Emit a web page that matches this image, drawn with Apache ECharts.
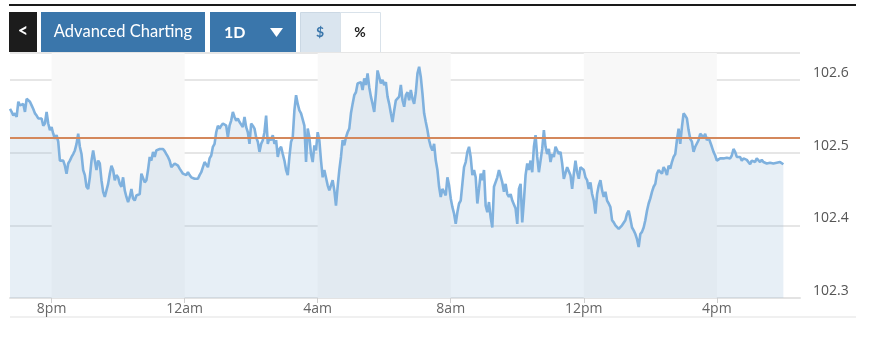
<!DOCTYPE html>
<html><head><meta charset="utf-8">
<script src="https://cdn.jsdelivr.net/npm/echarts@6/dist/echarts.min.js"></script>
<style>html,body{margin:0;padding:0;background:#fff}#c{width:870px;height:341px}</style>
</head><body><div id="c"></div>
<script>
// x categories: 3-minute steps from 18:45 to 18:30 next day
const startMinutes = 18 * 60 + 45;
const stepMinutes = 3;
const categoryCount = 476;
const tickLabels = {'20:00':'8pm','00:00':'12am','04:00':'4am','08:00':'8am','12:00':'12pm','16:00':'4pm'};
const shadedBands = [['20:00','00:00'],['04:00','08:00'],['12:00','16:00']];
const referenceLevel = 102.519;
const yLabels = ['102.3','102.4','102.5','102.6'];

const pricesEvening = [102.560,102.556,102.551,102.554,102.549,102.570,102.565,102.563,102.567,102.556,102.574,102.572,102.570,102.565,102.560,102.554,102.551,102.547,102.549,102.547,102.537,102.540,102.556,102.540,102.531,102.535,102.526,102.519,102.524,102.515,102.489,102.487,102.489,102.482,102.471,102.485,102.489,102.494,102.498,102.503,102.512,102.526,102.508,102.498,102.476,102.469,102.453,102.450,102.466,102.489,102.503,102.489,102.476,102.489,102.485,102.462,102.446,102.439,102.448,102.457,102.471,102.482,102.476,102.462,102.469,102.466,102.457,102.453,102.466,102.448,102.439,102.432,102.439,102.450,102.437,102.434,102.441,102.439,102.443,102.471,102.469,102.459,102.462,102.476,102.494,102.489,102.501,102.494,102.503,102.501];
const pricesNight = [102.505,102.505,102.505,102.502,102.498,102.494,102.489,102.480,102.482,102.485,102.487,102.482,102.478,102.476,102.471,102.473,102.469,102.473,102.469,102.466,102.466,102.464,102.462,102.464,102.469,102.473,102.480,102.487,102.489,102.480,102.492,102.496,102.508,102.512,102.528,102.537,102.533,102.537,102.540,102.542,102.537,102.521,102.537,102.544,102.556,102.549,102.544,102.547,102.542,102.542,102.535,102.549,102.535,102.528,102.512,102.540,102.537,102.533,102.521,102.515,102.501,102.512,102.517,102.528,102.551,102.512,102.521,102.517,102.524,102.512,102.517,102.494,102.505,102.508,102.498,102.489,102.476,102.469,102.494,102.515,102.521,102.558,102.579,102.567,102.558,102.554,102.556,102.537,102.487,102.533,102.521,102.498,102.487];
const pricesEarly = [102.510,102.503,102.528,102.517,102.489,102.466,102.476,102.478,102.455,102.448,102.446,102.462,102.448,102.427,102.453,102.476,102.494,102.517,102.510,102.521,102.528,102.533,102.554,102.567,102.579,102.583,102.595,102.593,102.597,102.586,102.602,102.593,102.609,102.590,102.577,102.567,102.556,102.581,102.613,102.604,102.595,102.600,102.593,102.597,102.577,102.567,102.554,102.542,102.558,102.572,102.570,102.577,102.593,102.572,102.563,102.579,102.583,102.572,102.586,102.574,102.567,102.583,102.609,102.618,102.604,102.581,102.554,102.542,102.531,102.517,102.508,102.503,102.512,102.489,102.476,102.453,102.439,102.450,102.446,102.441,102.466,102.455,102.437,102.425,102.416,102.402,102.418,102.430,102.434,102.457,102.480,102.487,102.501];
const pricesMorning = [102.508,102.494,102.469,102.476,102.466,102.430,102.450,102.471,102.462,102.476,102.427,102.418,102.432,102.411,102.397,102.453,102.455,102.466,102.476,102.478,102.459,102.446,102.457,102.443,102.439,102.443,102.434,102.432,102.423,102.402,102.450,102.457,102.404,102.434,102.469,102.485,102.476,102.489,102.473,102.508,102.524,102.494,102.473,102.489,102.505,102.531,102.508,102.498,102.505,102.487,102.498,102.494,102.508,102.510,102.498,102.501,102.485,102.464,102.462,102.480,102.482,102.469,102.450,102.471,102.489,102.473,102.464,102.480,102.482,102.476,102.466,102.462,102.450,102.459,102.443,102.434,102.416,102.443,102.455,102.462,102.448,102.439,102.446,102.434,102.430,102.425,102.407,102.404,102.400,102.402,102.395,102.397,102.400];
const pricesAfternoon = [102.402,102.407,102.416,102.420,102.409,102.397,102.393,102.388,102.381,102.370,102.388,102.391,102.397,102.407,102.420,102.430,102.437,102.446,102.453,102.457,102.471,102.476,102.478,102.471,102.480,102.476,102.469,102.482,102.478,102.487,102.494,102.498,102.517,102.533,102.512,102.535,102.554,102.551,102.547,102.531,102.519,102.515,102.501,102.508,102.510,102.517,102.526,102.524,102.521,102.526,102.517,102.521,102.519,102.508,102.501,102.496,102.489,102.489,102.492,102.490,102.492,102.490,102.493,102.494,102.492,102.496,102.505,102.501,102.494,102.492,102.494,102.489,102.492,102.494,102.490,102.489,102.484,102.489,102.490,102.487,102.492,102.492,102.487,102.490,102.487,102.485,102.485,102.484,102.486,102.485,102.485,102.487,102.486,102.487,102.487,102.485,102.484];

const prices = [].concat(pricesEvening, pricesNight, pricesEarly, pricesMorning, pricesAfternoon);

const categories = [];
for (let i = 0; i < categoryCount; i++) {
  const m = (startMinutes + i * stepMinutes) % 1440;
  categories.push(String(Math.floor(m / 60)).padStart(2, '0') + ':' + String(m % 60).padStart(2, '0'));
}

const blue = '#3a76ab';
const chart = echarts.init(document.getElementById('c'), null, {renderer: 'canvas'});
chart.setOption({
  animation: false,
  backgroundColor: '#fff',
  grid: {left: 10, right: 70, top: 53, bottom: 43},
  xAxis: {
    type: 'category', data: categories, boundaryGap: false,
    axisLine: {lineStyle: {color: '#e3e3e3', width: 2}},
    axisTick: {interval: (i, v) => v in tickLabels, length: 5, lineStyle: {color: '#cfcfcf'}},
    axisLabel: {interval: (i, v) => v in tickLabels, formatter: v => tickLabels[v] || '',
      color: '#666', fontSize: 14, fontFamily: 'Open Sans', margin: 4},
    splitLine: {show: false}
  },
  yAxis: {
    type: 'value', position: 'right', min: 102.3, max: 102.637, interval: 0.1,
    axisLine: {show: false}, axisTick: {show: false},
    splitLine: {lineStyle: {color: '#e6e6e6', width: 2}},
    axisLabel: {
      formatter: v => { const s = v.toFixed(1); return (Math.abs(v * 10 - Math.round(v * 10)) < 1e-6 && yLabels.includes(s)) ? s : ''; },
      color: '#555', fontSize: 14, fontFamily: 'Open Sans', margin: 13, align: 'left', verticalAlign: 'bottom'
    }
  },
  series: [
    {type: 'line', data: [], z: 0, silent: true,
      markArea: {silent: true, itemStyle: {color: '#f8f8f8'},
        data: shadedBands.map(b => [{xAxis: b[0]}, {xAxis: b[1]}])}},
    {type: 'line', data: prices, z: 3, showSymbol: false, symbol: 'none',
      lineStyle: {color: '#7fb1de', width: 2.6},
      areaStyle: {color: 'rgba(160,192,220,0.36)', origin: 'start'},
      markLine: {silent: true, symbol: 'none', label: {show: false},
        lineStyle: {color: '#d4885c', width: 2, type: 'solid'},
        data: [{yAxis: referenceLevel}]}}
  ],
  graphic: [
    {type: 'line', shape: {x1: 9, y1: 5, x2: 856, y2: 5}, style: {stroke: '#1a1a1a', lineWidth: 2}},
    {type: 'line', shape: {x1: 10, y1: 317, x2: 856, y2: 317}, style: {stroke: '#f0f0f0', lineWidth: 2}},
    {type: 'rect', shape: {x: 9, y: 12, width: 28, height: 40}, style: {fill: '#1c1c1c'}},
    {type: 'text', style: {text: '<', x: 23, y: 31, fill: '#fff', font: 'bold 18px Lato', textAlign: 'center', textVerticalAlign: 'middle'}},
    {type: 'rect', shape: {x: 41, y: 12, width: 164, height: 40}, style: {fill: blue}},
    {type: 'text', style: {text: 'Advanced Charting', x: 123, y: 32, fill: '#fff', font: '16.5px Lato', textAlign: 'center', textVerticalAlign: 'middle'}},
    {type: 'rect', shape: {x: 210, y: 12, width: 86, height: 40}, style: {fill: blue}},
    {type: 'text', style: {text: '1D', x: 224, y: 33, fill: '#fff', font: 'bold 16px Lato', textAlign: 'left', textVerticalAlign: 'middle'}},
    {type: 'polygon', shape: {points: [[270, 28], [283, 28], [276.5, 37]]}, style: {fill: '#fff'}},
    {type: 'rect', shape: {x: 300.5, y: 12.5, width: 40, height: 40}, style: {fill: '#dae5ef', stroke: '#cbd8e4', lineWidth: 1}},
    {type: 'text', style: {text: '$', x: 320, y: 32, fill: blue, font: 'bold 14px Lato', textAlign: 'center', textVerticalAlign: 'middle'}},
    {type: 'rect', shape: {x: 340.5, y: 12.5, width: 40, height: 40}, style: {fill: '#fff', stroke: '#d9e2ea', lineWidth: 1}},
    {type: 'text', style: {text: '%', x: 360, y: 32, fill: '#222', font: 'bold 14px Lato', textAlign: 'center', textVerticalAlign: 'middle'}}
  ]
});
</script>
</body></html>
